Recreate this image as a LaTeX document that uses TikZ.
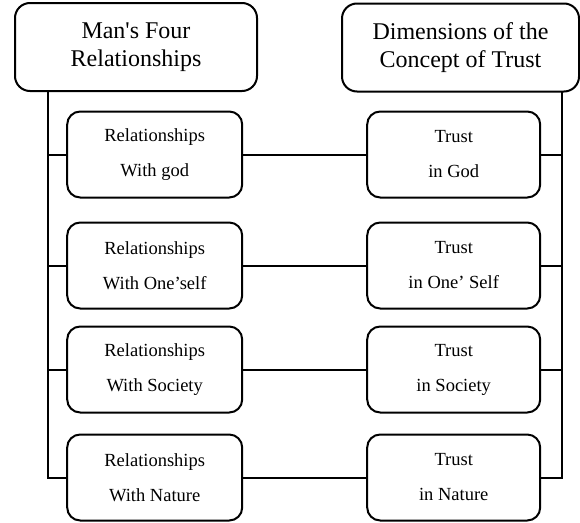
\documentclass[tikz,border=0pt]{standalone}
\usepackage{fontspec}
\setmainfont{Liberation Serif}
\tikzset{
	headbox/.style={draw, rounded corners=15pt, minimum height=88pt, align=center, font=\fontsize{24}{28}\selectfont},
	itembox/.style={draw, rounded corners=13pt, minimum height=86pt, align=center, font=\fontsize{18.5}{35}\selectfont},
	relbox/.style={itembox, minimum width=175pt},
	trustbox/.style={itembox, minimum width=173pt},
}
\begin{document}
\begin{tikzpicture}[x=1pt, y=-1pt, line width=2pt]
	\useasboundingbox (0,0) rectangle (580,522);
	% heads
	\node[headbox, minimum width=242pt] (man)   at (136,47)   {Man\textquotesingle s Four\\Relationships};
	\node[headbox, minimum width=237pt] (trust) at (460.5,47.5) {Dimensions of the\\Concept of Trust};
	% left column
	\node[relbox] (rel1) at (154.7,154.5) {Relationships\\With god};
	\node[relbox] (rel2) at (154.7,265.5) {Relationships\\With One’self};
	\node[relbox] (rel3) at (154.7,369.5) {Relationships\\With Society};
	\node[relbox] (rel4) at (154.7,477.5) {Relationships\\With Nature};
	% right column
	\node[trustbox] (tr1) at (453.7,154.5) {Trust\\in God};
	\node[trustbox] (tr2) at (453.7,265.5) {Trust\\in One’ Self};
	\node[trustbox] (tr3) at (453.7,369.5) {Trust\\in Society};
	\node[trustbox] (tr4) at (453.7,477.5) {Trust\\in Nature};
	% spines
	\coordinate (ltop) at (48,91);
	\coordinate (rtop) at (562,92);
	\draw (ltop) -- (rel4.west -| ltop) -- (rel4.west);
	\draw (rtop) -- (tr4.east -| rtop) -- (tr4.east);
	\foreach \i in {1,2,3}{
		\draw (rel\i.west -| ltop) -- (rel\i.west);
		\draw (tr\i.east -| rtop) -- (tr\i.east);
	}
	% links
	\foreach \i in {1,2,3,4}
		\draw (rel\i) -- (tr\i);
\end{tikzpicture}
\end{document}
